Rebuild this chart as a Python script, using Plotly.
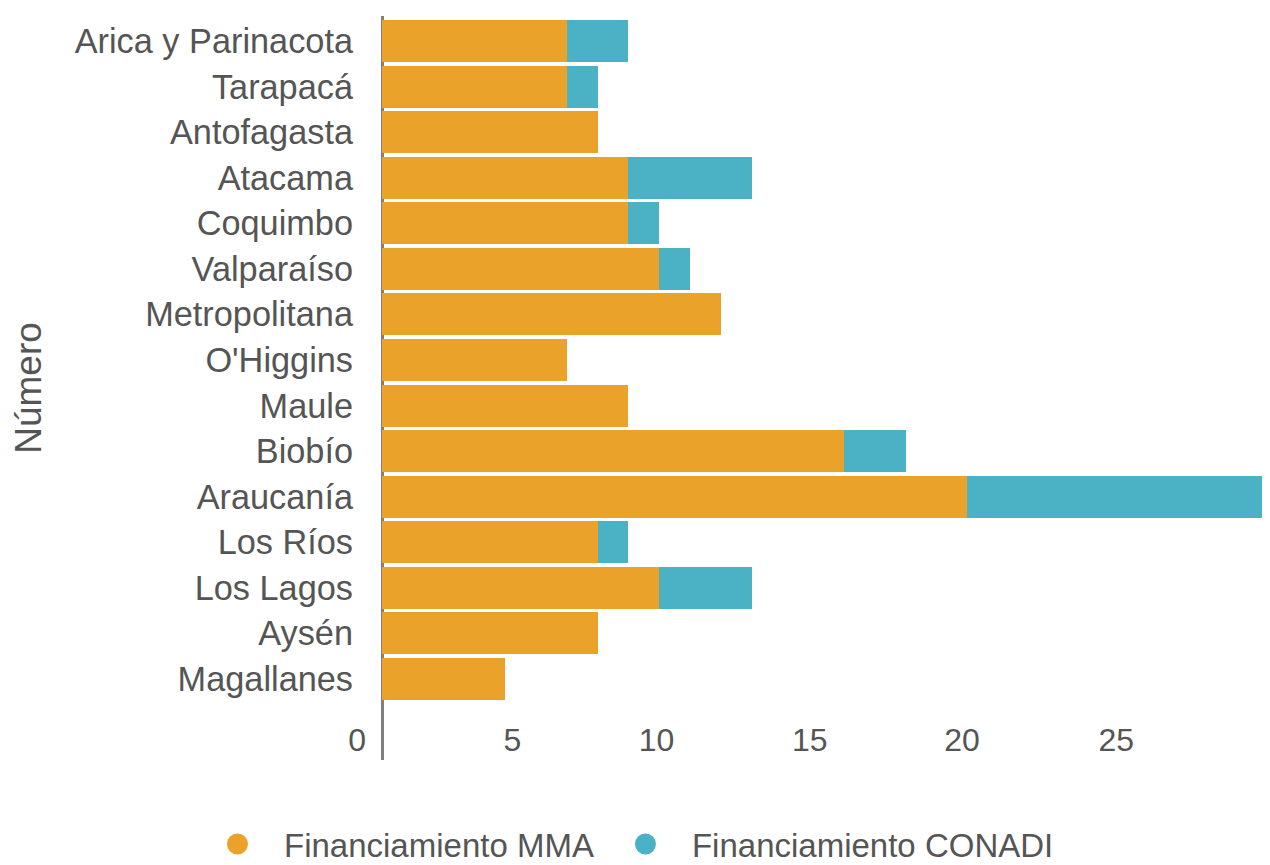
import plotly.graph_objects as go

regions = ["Arica y Parinacota", "Tarapacá", "Antofagasta", "Atacama", "Coquimbo",
           "Valparaíso", "Metropolitana", "O'Higgins", "Maule", "Biobío",
           "Araucanía", "Los Ríos", "Los Lagos", "Aysén", "Magallanes"]
mma = [6, 6, 7, 8, 8, 9, 11, 6, 8, 15, 19, 7, 9, 7, 4]
conadi = [2, 1, 0, 4, 1, 1, 0, 0, 0, 2, 10, 1, 3, 0, 0]

tick_vals = [-0.81, 4.23, 8.91, 13.89, 18.83, 23.84]
tick_text = ["0", "5", "10", "15", "20", "25"]

ORANGE = "#EBA22A"
TEAL = "#4BB1C5"
TXT = "#555555"
FONT = "Liberation Sans, Arial, sans-serif"

fig = go.Figure()
fig.add_trace(go.Bar(y=regions, x=mma, orientation="h", name="Financiamiento MMA",
                     marker=dict(color=ORANGE, line=dict(width=0)), showlegend=False))
fig.add_trace(go.Bar(y=regions, x=conadi, orientation="h", name="Financiamiento CONADI",
                     marker=dict(color=TEAL, line=dict(width=0)), showlegend=False))
# legend entries drawn with circle symbols
for name, col in [("Financiamiento MMA", ORANGE), ("Financiamiento CONADI", TEAL)]:
    fig.add_trace(go.Scatter(x=[None], y=[None], mode="markers", name=name,
                             marker=dict(symbol="circle", size=16, color=col,
                                         line=dict(width=5, color=col))))

fig.update_layout(
    width=1262, height=857,
    barmode="stack", bargap=0.08,
    plot_bgcolor="white", paper_bgcolor="white",
    margin=dict(l=336, r=0, t=8, b=105, autoexpand=False),
    font=dict(family=FONT, color=TXT, size=32),
    showlegend=True,
    legend=dict(orientation="h", traceorder="normal",
                xref="container", x=0.4889, xanchor="center",
                yref="container", y=0.0245, yanchor="middle",
                itemwidth=83,
                font=dict(size=33, color=TXT, family=FONT)),
    xaxis=dict(type="linear", range=[-1.234, 28.83], autorange=False,
               tickmode="array", tickvals=tick_vals, ticktext=tick_text,
               showgrid=False, showline=False, ticks="",
               zeroline=True, zerolinecolor="#808080", zerolinewidth=3,
               ticklabelposition="inside", tickangle=0,
               tickfont=dict(size=32, color=TXT, family=FONT)),
    yaxis=dict(type="category", categoryorder="array", categoryarray=regions,
               range=[15.78, -0.55], autorange=False,
               showgrid=False, showline=False, ticks="", zeroline=False,
               ticklabelstandoff=-10,
               tickfont=dict(size=34.3, color=TXT, family=FONT),
               title=dict(text="Número", font=dict(size=37, color=TXT, family=FONT), standoff=22)),
)

fig.write_html("out.html")
